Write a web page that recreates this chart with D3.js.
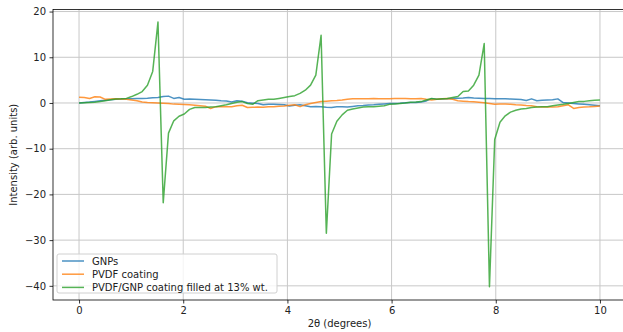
<!DOCTYPE html>
<html><head><meta charset="utf-8">
<script src="https://cdn.jsdelivr.net/npm/d3@7"></script>
<style>body{margin:0;background:#fff}svg{display:block}text{font-family:"DejaVu Sans",sans-serif;}</style>
</head><body>
<svg id="chart" width="623" height="332"></svg>
<script>
const seriesNames = ["GNPs", "PVDF coating", "PVDF/GNP coating filled at 13% wt."];
const xTicks = [0, 2, 4, 6, 8, 10];
const yTicks = [20, 10, 0, -10, -20, -30, -40];
const xRange = [0, 10];
const gnps = [0.0,0.1,0.2,0.35,0.5,0.6,0.7,0.8,0.85,0.9,0.95,1.0,1.0,1.05,1.15,1.2,1.4,1.5,1.0,1.2,
0.8,0.85,0.8,0.75,0.7,0.65,0.6,0.5,0.45,0.2,0.5,0.4,0.05,-0.05,-0.1,-0.4,-0.3,-0.3,-0.35,-0.4,
-0.65,-0.5,-0.4,-0.6,-0.8,-0.75,-0.8,-0.95,-1.0,-0.85,-0.8,-0.9,-0.75,-0.6,-0.55,-0.45,-0.4,-0.3,-0.2,-0.1,
-0.1,-0.05,0.05,0.1,0.1,0.2,0.45,0.95,0.8,0.85,0.95,1.0,1.05,1.1,1.2,1.1,1.05,1.0,1.0,0.95,
0.9,0.9,0.85,0.8,0.75,0.55,0.9,0.5,0.6,0.65,0.7,0.9,0.1,0.0,-0.1,-0.2,-0.3,-0.4,-0.5,-0.6];
const pvdf = [1.25,1.2,1.0,1.35,1.3,0.8,0.85,0.9,0.85,0.8,0.65,0.5,0.2,0.1,0.05,0.0,-0.05,-0.1,-0.25,-0.3,
-0.35,-0.4,-0.5,-0.6,-0.7,-1.2,-0.8,-0.8,-0.85,-0.8,-0.6,-0.5,-1.0,-0.95,-0.9,-0.95,-0.85,-0.8,-0.7,-0.65,
-0.5,-0.4,-0.8,-0.4,-0.1,0.1,0.3,0.4,0.5,0.55,0.65,0.8,0.9,0.9,0.9,0.95,1.0,0.95,0.9,0.95,
1.0,1.0,1.0,0.9,0.95,1.0,0.8,0.65,0.8,0.9,1.0,0.8,0.5,0.4,0.3,0.25,0.15,0.05,-0.1,-0.3,
-0.25,-0.2,-0.3,-0.4,-0.45,-0.55,-0.6,-0.8,-0.9,-0.9,-0.9,-0.8,-0.6,-0.4,-1.2,-1.0,-0.9,-0.85,-0.75,-0.65];
const composite = [0.0,0.05,0.1,0.15,0.3,0.5,0.7,0.85,0.9,1.0,1.4,1.9,2.5,3.9,6.9,17.7,-21.8,-6.6,-3.9,-2.9,
-2.4,-1.4,-1.0,-1.0,-1.0,-0.9,-0.8,-0.6,-0.4,-0.1,0.15,0.3,-0.1,-0.3,0.5,0.65,0.8,0.8,1.0,1.2,
1.4,1.6,2.1,2.8,3.9,6.1,14.8,-28.5,-6.8,-4.0,-2.6,-1.6,-1.3,-1.1,-0.9,-0.85,-0.8,-0.7,-0.6,-0.3,
-0.2,-0.1,0.0,0.15,0.2,0.3,0.65,1.0,0.8,0.9,1.0,1.2,1.4,2.5,2.6,3.9,6.1,13.0,-40.2,-8.0,
-4.2,-2.8,-2.0,-1.6,-1.3,-1.2,-1.0,-0.9,-0.85,-0.8,-0.6,-0.45,-0.3,-0.1,0.1,0.3,0.35,0.5,0.6,0.65];
const colors = ["#1f77b4", "#ff7f0e", "#2ca02c"];

const N = gnps.length;
const idx = d3.scaleLinear().domain([0, N - 1]).range(xRange);
const twoTheta = d3.range(N).map(i => idx(i));
const series = [gnps, pvdf, composite];

const svg = d3.select("#chart");
const L = 53, R = 626, T = 9.5, B = 300;
const x = d3.scaleLinear().domain([-0.5, 10.5]).range([L, R]);
const y = d3.scaleLinear().domain([-43.1, 20.45]).range([B, T]);

// grid
const g = svg.append("g");
g.selectAll(".gx").data(xTicks).join("line")
  .attr("x1", d => x(d)).attr("x2", d => x(d)).attr("y1", T).attr("y2", B)
  .attr("stroke", "#c8c8c8").attr("stroke-width", 1);
g.selectAll(".gy").data(yTicks).join("line")
  .attr("y1", d => y(d)).attr("y2", d => y(d)).attr("x1", L).attr("x2", R)
  .attr("stroke", "#c8c8c8").attr("stroke-width", 1);

// lines
const line = d3.line().x((d, i) => x(twoTheta[i])).y(d => y(d));
series.forEach((s, k) => {
  svg.append("path").datum(s).attr("d", line)
    .attr("fill", "none").attr("stroke", colors[k]).attr("stroke-width", 1.5)
    .attr("stroke-opacity", 0.8).attr("stroke-linejoin", "round");
});

// axes
const xAxis = d3.axisBottom(x).tickValues(xTicks).tickSize(3.5).tickPadding(3.5).tickFormat(d3.format("d"));
const yAxis = d3.axisLeft(y).tickValues(yTicks).tickSize(3.5).tickPadding(3.5)
  .tickFormat(d => d < 0 ? "\u2212" + Math.abs(d) : String(d));
const gx = svg.append("g").attr("transform", `translate(0,${B})`).call(xAxis);
const gy = svg.append("g").attr("transform", `translate(${L},0)`).call(yAxis);
[gx, gy].forEach(a => {
  a.select(".domain").remove();
  a.selectAll("line").attr("stroke", "#000").attr("stroke-width", 0.8);
  a.selectAll("text").attr("font-size", 10).attr("fill", "#222").attr("font-family", "DejaVu Sans");
});
// spines
svg.append("rect").attr("x", L).attr("y", T).attr("width", R - L).attr("height", B - T)
  .attr("fill", "none").attr("stroke", "#000").attr("stroke-width", 0.8);

// labels
svg.append("text").attr("x", (L + R) / 2).attr("y", 327).attr("text-anchor", "middle")
  .attr("font-size", 10).attr("fill", "#222").text("2θ (degrees)");
svg.append("text").attr("transform", `translate(17,${(T + B) / 2}) rotate(-90)`).attr("text-anchor", "middle")
  .attr("font-size", 10).attr("fill", "#222").text("Intensity (arb. units)");

// legend
const lg = svg.append("g");
lg.append("rect").attr("x", 57).attr("y", 254).attr("width", 220).attr("height", 39)
  .attr("rx", 2).attr("fill", "#fff").attr("fill-opacity", 0.8).attr("stroke", "#d0d0d0").attr("stroke-width", 1);
seriesNames.forEach((n, k) => {
  const yy = 261 + k * 13.2;
  lg.append("line").attr("x1", 62).attr("x2", 84).attr("y1", yy).attr("y2", yy)
    .attr("stroke", colors[k]).attr("stroke-width", 1.5).attr("stroke-opacity", 0.8);
  lg.append("text").attr("x", 92).attr("y", yy + 3.6).attr("font-size", 10).attr("fill", "#222").text(n);
});
</script>
</body></html>
